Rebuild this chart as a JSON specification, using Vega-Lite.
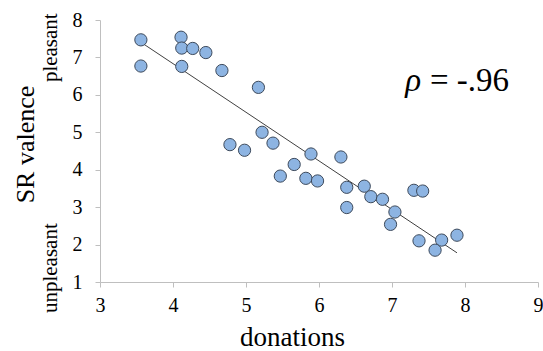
{
  "$schema": "https://vega.github.io/schema/vega-lite/v6.json",
  "width": 438,
  "height": 262,
  "autosize": "none",
  "padding": {"left": 100, "top": 20, "right": 5, "bottom": 69},
  "config": {
    "view": {"stroke": null},
    "font": "Liberation Serif",
    "axis": {
      "grid": false,
      "domainColor": "#bfbfbf",
      "tickColor": "#bfbfbf",
      "tickSize": 5,
      "labelColor": "#000000",
      "labelFont": "Liberation Serif",
      "labelFontSize": 20,
      "labelOverlap": false,
      "labelFlush": false,
      "titleFont": "Liberation Serif",
      "titleFontWeight": "normal",
      "titleColor": "#000000"
    }
  },
  "datasets": {
    "pts": [
      {"donations": 3.56, "valence": 7.47},
      {"donations": 3.56, "valence": 6.77},
      {"donations": 4.11, "valence": 7.54},
      {"donations": 4.12, "valence": 7.25},
      {"donations": 4.27, "valence": 7.24},
      {"donations": 4.45, "valence": 7.13},
      {"donations": 4.12, "valence": 6.76},
      {"donations": 4.67, "valence": 6.65},
      {"donations": 5.17, "valence": 6.2},
      {"donations": 5.22, "valence": 5.0},
      {"donations": 4.78, "valence": 4.67},
      {"donations": 4.98, "valence": 4.52},
      {"donations": 5.37, "valence": 4.71},
      {"donations": 5.47, "valence": 3.83},
      {"donations": 5.66, "valence": 4.14},
      {"donations": 5.89, "valence": 4.42},
      {"donations": 5.82, "valence": 3.77},
      {"donations": 5.98, "valence": 3.7},
      {"donations": 6.3, "valence": 4.34},
      {"donations": 6.38, "valence": 3.53},
      {"donations": 6.38, "valence": 2.99},
      {"donations": 6.62, "valence": 3.56},
      {"donations": 6.71, "valence": 3.28},
      {"donations": 6.87, "valence": 3.21},
      {"donations": 7.04, "valence": 2.87},
      {"donations": 6.98, "valence": 2.54},
      {"donations": 7.3, "valence": 3.45},
      {"donations": 7.42, "valence": 3.43},
      {"donations": 7.37, "valence": 2.1},
      {"donations": 7.68, "valence": 2.12},
      {"donations": 7.59, "valence": 1.85},
      {"donations": 7.89, "valence": 2.25}
    ],
    "fit": [
      {"donations": 3.58, "valence": 7.38},
      {"donations": 7.89, "valence": 1.78}
    ],
    "side": [
      {"donations": 2.41, "valence": 7.26, "label": "pleasant"},
      {"donations": 2.41, "valence": 1.37, "label": "unpleasant"}
    ],
    "rho": [{"donations": 7.4, "valence": 6.1, "label": "ρ"}],
    "eq": [{"donations": 7.52, "valence": 6.1, "label": "= -.96"}]
  },
  "encoding": {
    "x": {
      "field": "donations",
      "type": "quantitative",
      "scale": {"domain": [3, 9], "nice": false, "zero": false},
      "axis": {
        "values": [3, 4, 5, 6, 7, 8, 9],
        "format": "d",
        "labelPadding": 8,
        "labelFont": "Liberation Serif",
        "labelFontSize": 20,
        "title": "donations",
        "titleFontSize": 27,
        "titleX": 192,
        "titleY": 63,
        "titleAlign": "center",
        "titleBaseline": "alphabetic"
      }
    },
    "y": {
      "field": "valence",
      "type": "quantitative",
      "scale": {"domain": [1, 8], "nice": false, "zero": false},
      "axis": {
        "values": [1, 2, 3, 4, 5, 6, 7, 8],
        "format": "d",
        "labelPadding": 13,
        "labelFont": "Liberation Serif",
        "labelFontSize": 20,
        "labelOverlap": false,
        "title": "SR valence",
        "titleFontSize": 26,
        "titleX": -67,
        "titleY": 124,
        "titleAlign": "center",
        "titleBaseline": "alphabetic",
        "titleAngle": -90
      }
    }
  },
  "layer": [
    {
      "data": {"name": "fit"},
      "mark": {"type": "line", "color": "#404040", "strokeWidth": 1}
    },
    {
      "data": {"name": "pts"},
      "mark": {"type": "point", "filled": true, "fill": "#8db4e2", "stroke": "#3d4a5c", "strokeWidth": 1, "size": 150, "opacity": 1}
    },
    {
      "data": {"name": "side"},
      "mark": {"type": "text", "angle": 270, "align": "center", "baseline": "alphabetic", "fontSize": 21, "font": "Liberation Serif", "color": "#000000"},
      "encoding": {"text": {"field": "label"}}
    },
    {
      "data": {"name": "rho"},
      "mark": {"type": "text", "align": "right", "baseline": "alphabetic", "fontSize": 33, "fontStyle": "italic", "font": "Liberation Serif", "color": "#000000"},
      "encoding": {"text": {"field": "label"}}
    },
    {
      "data": {"name": "eq"},
      "mark": {"type": "text", "align": "left", "baseline": "alphabetic", "fontSize": 33, "font": "Liberation Serif", "color": "#000000"},
      "encoding": {"text": {"field": "label"}}
    }
  ]
}
